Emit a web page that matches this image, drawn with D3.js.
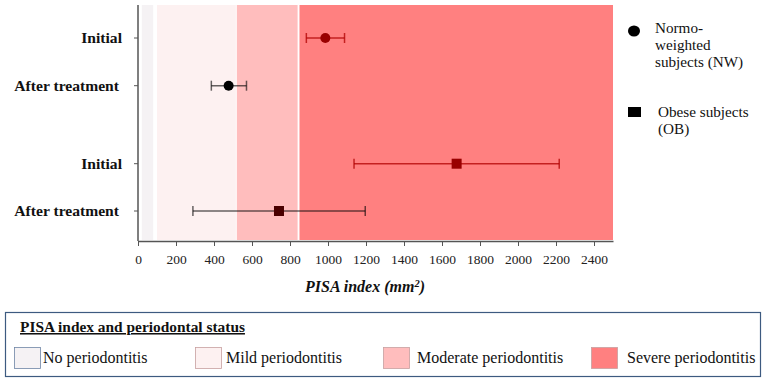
<!DOCTYPE html>
<html>
<head>
<meta charset="utf-8">
<script src="https://cdn.jsdelivr.net/npm/d3@7"></script>
<style>
  body { margin: 0; background: #fff; }
  svg, svg text, svg tspan { font-family: "Liberation Serif", "DejaVu Serif", serif; }
</style>
</head>
<body>
<svg id="chart" width="765" height="381"></svg>
<script>
// ---- data ----
const rowLabels = ["Initial", "After treatment", "Initial", "After treatment"];
const rowGroup = ["NW", "NW", "OB", "OB"];
const rowMean = [986, 477, 1677, 742];
const rowLow = [886, 386, 1137, 289];
const rowHigh = [1087, 571, 2217, 1196];
const rowPhase = ["initial", "after", "initial", "after"];

const bandNames = ["No periodontitis", "Mild periodontitis", "Moderate periodontitis", "Severe periodontitis"];
const bandStart = [20, 100, 520, 850];
const bandEnd = [80, 515, 840, 2500];
const bandColors = ["#f5f2f4", "#fdf1f1", "#ffbdbd", "#ff8080"];

const xTicks = [0, 200, 400, 600, 800, 1000, 1200, 1400, 1600, 1800, 2000, 2200, 2400];

const groupNames = [["Normo-", "weighted", "subjects (NW)"], ["Obese subjects", "(OB)"]];

// ---- setup ----
const svg = d3.select("#chart");
const margin = {top: 5, left: 138};
const plotBottom = 241;
const FONT = "'Liberation Serif', 'DejaVu Serif', serif";

const x = d3.scaleLinear().domain([0, 2500]).range([margin.left, 613]);
// row centres: two groups with a gap between them
const rowY = [38, 85.7, 163.7, 211];

// ---- background bands ----
svg.selectAll(".band")
  .data(bandNames)
  .enter().append("rect")
  .attr("class", "band")
  .attr("x", (d, i) => x(bandStart[i]))
  .attr("width", (d, i) => x(bandEnd[i]) - x(bandStart[i]))
  .attr("y", margin.top)
  .attr("height", plotBottom - 1 - margin.top)
  .attr("fill", (d, i) => bandColors[i]);

// ---- axes ----
const xAxis = svg.append("g")
  .attr("transform", `translate(0, ${plotBottom})`)
  .call(d3.axisBottom(x).tickValues(xTicks).tickFormat(d3.format("d"))
    .tickSize(5).tickPadding(8).tickSizeOuter(0))
  .attr("font-family", FONT);
xAxis.select(".domain").attr("stroke", "#555").attr("stroke-width", 1.5);
xAxis.selectAll(".tick line").attr("stroke", "#555");
xAxis.selectAll("text").style("font-size", "13.5px").attr("fill", "#222");

svg.append("line")
  .attr("x1", margin.left).attr("x2", margin.left)
  .attr("y1", margin.top).attr("y2", plotBottom)
  .attr("stroke", "#555").attr("stroke-width", 1.5);

// y ticks and labels
svg.selectAll(".ytick")
  .data(rowLabels)
  .enter().append("line")
  .attr("x1", margin.left - 4).attr("x2", margin.left)
  .attr("y1", (d, i) => rowY[i]).attr("y2", (d, i) => rowY[i])
  .attr("stroke", "#555");

svg.selectAll(".ylabel")
  .data(rowLabels)
  .enter().append("text")
  .attr("x", d => d === "Initial" ? 122 : 119)
  .attr("y", (d, i) => rowY[i])
  .attr("dy", "0.35em")
  .attr("text-anchor", "end")
  .style("font-weight", "bold")
  .style("font-size", "15.6px")
  .attr("fill", "#111")
  .text(d => d);

// axis title
const title = svg.append("text")
  .attr("x", 365).attr("y", 292)
  .attr("text-anchor", "middle")
  .style("font-weight", "bold").style("font-style", "italic")
  .style("font-size", "16px")
  .attr("fill", "#111");
title.append("tspan").text("PISA index (mm");
title.append("tspan").attr("dy", -5).style("font-size", "10.5px").text("2");
title.append("tspan").attr("dy", 5).text(")");

// ---- error bars and markers ----
const barColor = p => p === "initial" ? "#b00000" : "#000";
const barOpacity = p => p === "initial" ? 0.75 : 0.6;
const markColor = ["#990000", "#000", "#990000", "#4a0000"];

const rows = svg.selectAll(".row")
  .data(rowLabels)
  .enter().append("g")
  .attr("class", "row");

rows.append("line")
  .attr("x1", (d, i) => x(rowLow[i])).attr("x2", (d, i) => x(rowHigh[i]))
  .attr("y1", (d, i) => rowY[i]).attr("y2", (d, i) => rowY[i])
  .attr("stroke", (d, i) => barColor(rowPhase[i]))
  .attr("stroke-opacity", (d, i) => barOpacity(rowPhase[i]))
  .attr("stroke-width", 1.5);

[rowLow, rowHigh].forEach(arr => {
  rows.append("line")
    .attr("x1", (d, i) => x(arr[i])).attr("x2", (d, i) => x(arr[i]))
    .attr("y1", (d, i) => rowY[i] - 5).attr("y2", (d, i) => rowY[i] + 5)
    .attr("stroke", (d, i) => barColor(rowPhase[i]))
    .attr("stroke-opacity", (d, i) => barOpacity(rowPhase[i]))
    .attr("stroke-width", 1.5);
});

rows.each(function(d, i) {
  const g = d3.select(this);
  if (rowGroup[i] === "NW") {
    g.append("circle")
      .attr("cx", x(rowMean[i])).attr("cy", rowY[i]).attr("r", 5)
      .attr("fill", markColor[i]);
  } else {
    g.append("rect")
      .attr("x", x(rowMean[i]) - 5).attr("y", rowY[i] - 5)
      .attr("width", 10).attr("height", 10)
      .attr("fill", markColor[i]);
  }
});

// ---- right legend (groups) ----
const gl = svg.append("g");
gl.append("ellipse").attr("cx", 634).attr("cy", 31).attr("rx", 6).attr("ry", 5.5).attr("fill", "#000");
gl.append("rect").attr("x", 628).attr("y", 107).attr("width", 13).attr("height", 10).attr("fill", "#000");
const legTextX = [655, 658];
const legTextY = [33, 117];
groupNames.forEach((lines, g) => {
  gl.selectAll(".gl" + g)
    .data(lines)
    .enter().append("text")
    .attr("x", legTextX[g])
    .attr("y", (d, k) => legTextY[g] + k * 17)
    .style("font-family", FONT)
    .style("font-size", "15.2px")
    .attr("fill", "#111")
    .text(d => d);
});

// ---- bottom legend (bands) ----
svg.append("rect")
  .attr("x", 5.5).attr("y", 312.5).attr("width", 755).attr("height", 64)
  .attr("fill", "none").attr("stroke", "#3d5a80").attr("stroke-width", 1.2);

svg.append("text")
  .attr("x", 20).attr("y", 332)
  .style("font-weight", "bold").style("font-size", "15.4px")
  .style("text-decoration", "underline")
  .attr("fill", "#111")
  .text("PISA index and periodontal status ");

const swX = [14, 195, 383, 591];
const txX = [43, 226, 417, 627];
const legItems = svg.selectAll(".leg")
  .data(bandNames)
  .enter().append("g");
legItems.append("rect")
  .attr("x", (d, i) => swX[i] + 0.5).attr("y", 347.5)
  .attr("width", 26).attr("height", 21)
  .attr("fill", (d, i) => bandColors[i])
  .attr("stroke", (d, i) => i === 0 ? "#6f86a6" : "#c8a0a0")
  .attr("stroke-width", 0.8);
legItems.append("text")
  .attr("x", (d, i) => txX[i]).attr("y", 363)
  .style("font-size", "16px").attr("fill", "#111")
  .text(d => d);
</script>
</body>
</html>
